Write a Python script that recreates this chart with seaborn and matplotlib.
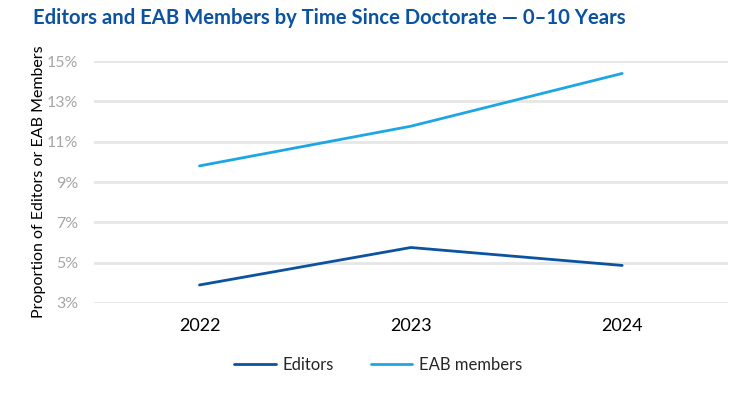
import pandas as pd
import matplotlib.pyplot as plt
import seaborn as sns

# Share of editors / EAB members 0-10 years since doctorate (%)
years = ["2022", "2023", "2024"]
editors = [3.89, 5.75, 4.86]
eab_members = [9.80, 11.77, 14.39]
y_ticks = [3, 5, 7, 9, 11, 13, 15]

df = pd.DataFrame({
    "Year": years * 2,
    "Share": editors + eab_members,
    "Group": ["Editors"] * 3 + ["EAB members"] * 3,
})

sns.set_style("white")
plt.rcParams['font.family'] = ['Lato', 'DejaVu Sans']

fig = plt.figure(figsize=(7.33, 3.97), dpi=100)
ax = fig.add_axes([0.128, 0.237, 0.865, 0.609])

palette = {"Editors": "#0b52a0", "EAB members": "#1ea6e2"}
sns.lineplot(data=df, x="Year", y="Share", hue="Group", palette=palette,
             linewidth=2, ax=ax, sort=False)

ax.set_xlim(-0.5, 2.5)
ax.set_ylim(3, 15)
ax.set_yticks(y_ticks)
ax.set_yticklabels([f"{t}%" for t in y_ticks], color="#a6a6a6", fontsize=11.5)
ax.tick_params(axis="x", labelsize=13, colors="black", length=0, pad=11)
ax.tick_params(axis="y", length=0, pad=11)
ax.grid(axis="y", color="#e6e6e6", linewidth=2)
ax.set_axisbelow(True)
for s in ax.spines.values():
    s.set_visible(False)

ax.set_xlabel("")
ax.set_ylabel("Proportion of Editors or EAB Members", fontsize=11.5, color="black", labelpad=1)

ax.get_legend().remove()
handles, labels = ax.get_legend_handles_labels()
fig.legend(handles, labels, loc="center", bbox_to_anchor=(0.516, 0.08), ncol=2, frameon=False,
           fontsize=12, handlelength=2.5, columnspacing=2.2, handletextpad=0.4)

fig.text(0.045, 0.955, "Editors and EAB Members by Time Since Doctorate \u2014 0\u201310 Years",
         fontsize=14.6, fontweight="bold", color="#0b52a0", va="center", ha="left")

fig.savefig("out.png", dpi=100)
